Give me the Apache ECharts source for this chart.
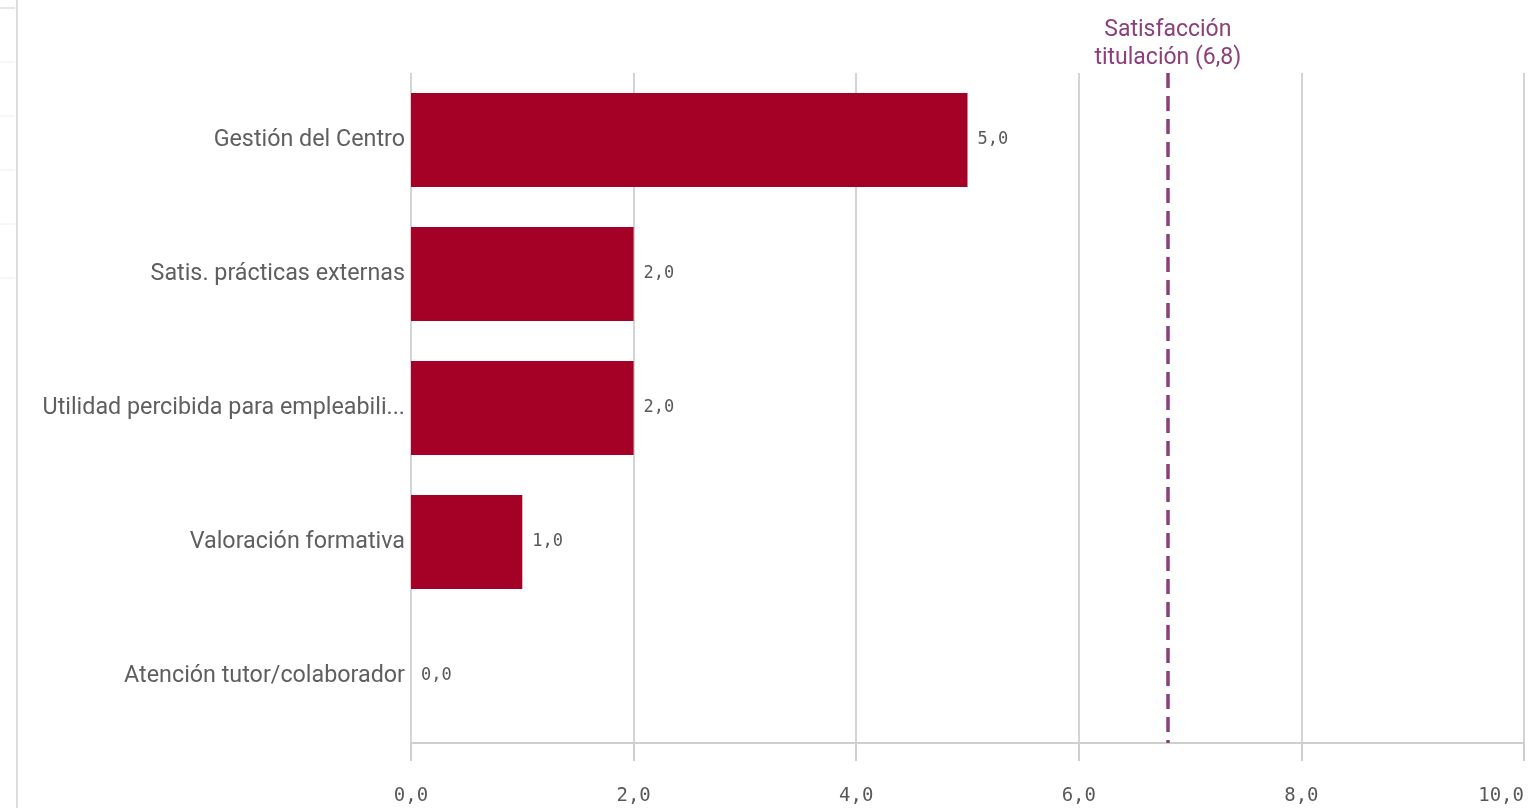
<!DOCTYPE html>
<html>
<head>
<meta charset="utf-8">
<script src="https://cdn.jsdelivr.net/npm/echarts@6/dist/echarts.min.js"></script>
<style>
html,body{margin:0;padding:0;background:#fff;}
#chart{width:1533px;height:808px;}
</style>
</head>
<body>
<div id="chart"></div>
<script>
const categories = ["Gestión del Centro", "Satis. prácticas externas", "Utilidad percibida para empleabilidad", "Valoración formativa", "Atención tutor/colaborador"];
const values = [5.0, 2.0, 2.0, 1.0, 0.0];
const referenceValue = 6.8;
const referenceLabel = "Satisfacción\ntitulación (6,8)";
const axisMin = 0, axisMax = 10, axisStep = 2;

const fmt = v => Number(v).toFixed(1).replace('.', ',');

const chart = echarts.init(document.getElementById('chart'));
chart.setOption({
  animation: false,
  grid: {left: 411, right: 9, top: 73, bottom: 65, containLabel: false},
  graphic: [
    {type: 'line', shape: {x1: 17, y1: 0, x2: 17, y2: 808}, style: {stroke: '#dcdcdc', lineWidth: 2}},
    {type: 'line', shape: {x1: 0, y1: 8, x2: 15, y2: 8}, style: {stroke: '#e6e6e6', lineWidth: 2}},
    {type: 'line', shape: {x1: 0, y1: 62, x2: 15, y2: 62}, style: {stroke: '#eeeeee', lineWidth: 1}},
    {type: 'line', shape: {x1: 0, y1: 116, x2: 15, y2: 116}, style: {stroke: '#eeeeee', lineWidth: 1}},
    {type: 'line', shape: {x1: 0, y1: 170, x2: 15, y2: 170}, style: {stroke: '#eeeeee', lineWidth: 1}},
    {type: 'line', shape: {x1: 0, y1: 224, x2: 15, y2: 224}, style: {stroke: '#eeeeee', lineWidth: 1}},
    {type: 'line', shape: {x1: 0, y1: 278, x2: 15, y2: 278}, style: {stroke: '#eeeeee', lineWidth: 1}}
  ],
  xAxis: {
    type: 'value', min: axisMin, max: axisMax, interval: axisStep,
    axisLine: {show: true, lineStyle: {color: '#cfcfcf', width: 2}},
    axisTick: {show: true, length: 18, lineStyle: {color: '#cfcfcf', width: 2}},
    splitLine: {show: true, lineStyle: {color: '#d4d4d4', width: 2}},
    axisLabel: {
      formatter: v => fmt(v), fontFamily: 'DejaVu Sans Mono', fontSize: 19, color: '#595959',
      margin: 44, alignMaxLabel: 'right'
    }
  },
  yAxis: {
    type: 'category', data: categories, inverse: true,
    axisLine: {show: false}, axisTick: {show: false}, splitLine: {show: false},
    axisLabel: {
      fontFamily: 'Roboto', fontSize: 23.3, color: '#5f5f5f', margin: 6,
      width: 368, overflow: 'truncate', ellipsis: '...'
    }
  },
  series: [{
    type: 'bar', data: values, barCategoryGap: '30%',
    itemStyle: {color: '#a50026'},
    label: {
      show: true, position: 'right', distance: 10, formatter: p => fmt(p.value),
      fontFamily: 'DejaVu Sans Mono', fontSize: 17, color: '#595959'
    },
    markLine: {
      silent: true, symbol: 'none', animation: false,
      lineStyle: {color: '#8c3f7c', type: [15, 8], width: 3.5},
      label: {
        show: true, position: 'start', formatter: referenceLabel, color: '#8c3f7c',
        fontFamily: 'Roboto', fontSize: 23, lineHeight: 28, distance: 1
      },
      data: [{xAxis: referenceValue}]
    }
  }]
});
</script>
</body>
</html>
